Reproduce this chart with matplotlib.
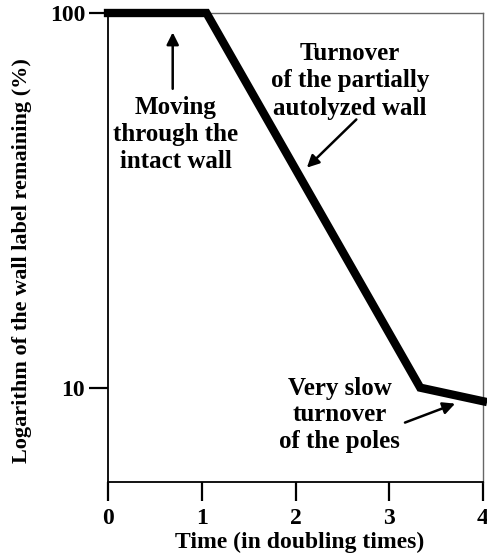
import matplotlib
matplotlib.use("Agg")
import matplotlib.pyplot as plt

# wall label remaining vs time (doubling times)
time_pts = [0, 1.05, 3.33, 4.0]
label_pct = [100, 100, 10, 9.2]
xticks = [0, 1, 2, 3, 4]
yticks = [10, 100]

plt.rcParams['font.family'] = ['Liberation Serif', 'DejaVu Serif']
plt.rcParams['font.weight'] = 'bold'

fig = plt.figure(figsize=(4.87, 5.58), dpi=100)
ax = fig.add_axes([0.2218, 0.1362, 0.77, 0.8405])

ax.plot(time_pts, label_pct, color='black', lw=6, solid_joinstyle='miter',
        clip_on=False, zorder=3)

ax.set_yscale('log')
ax.set_xlim(0, 4)
ax.set_ylim(5.6, 100)
ax.set_xticks(xticks)
ax.set_xticklabels([str(t) for t in xticks])
ax.set_yticks(yticks)
ax.set_yticklabels([str(t) for t in yticks])
ax.yaxis.set_minor_locator(matplotlib.ticker.NullLocator())

ax.tick_params(direction='out', length=13.5, width=1.6, labelsize=17)
ax.tick_params(axis='x', pad=5)
ax.tick_params(axis='y', pad=3)

for s in ['left', 'bottom']:
    ax.spines[s].set_linewidth(1.3)
    ax.spines[s].set_color('black')
for s in ['top', 'right']:
    ax.spines[s].set_linewidth(1.0)
    ax.spines[s].set_color('#666666')

# axis titles placed in figure coords
fig.text(300 / 487, 1 - 542 / 558, "Time (in doubling times)", fontsize=17,
         fontweight='bold', ha='center', va='center')
fig.text(22 / 487, 1 - 261 / 558, "Logarithm of the wall label remaining (%)",
         fontsize=16, fontweight='bold', rotation=90, ha='center', va='center')

# annotations
arrow = dict(arrowstyle='-|>', lw=1.8, color='black', mutation_scale=18)

ax.text(0.725, 47.4, "Moving\nthrough the\nintact wall", ha='center',
        va='center', fontsize=18, fontweight='bold', linespacing=1.2)
ax.annotate("", xy=(0.69, 90.3), xytext=(0.69, 61.7), arrowprops=arrow)

ax.text(2.58, 66.0, "Turnover\nof the partially\nautolyzed wall", ha='center',
        va='center', fontsize=18, fontweight='bold', linespacing=1.25)
ax.annotate("", xy=(2.10, 38.2), xytext=(2.67, 52.6), arrowprops=arrow)

ax.text(2.47, 8.47, "Very slow\nturnover\nof the poles", ha='center',
        va='center', fontsize=18, fontweight='bold', linespacing=1.2)
ax.annotate("", xy=(3.73, 9.12), xytext=(3.14, 8.02), arrowprops=arrow)

fig.savefig("out.png", dpi=100)
